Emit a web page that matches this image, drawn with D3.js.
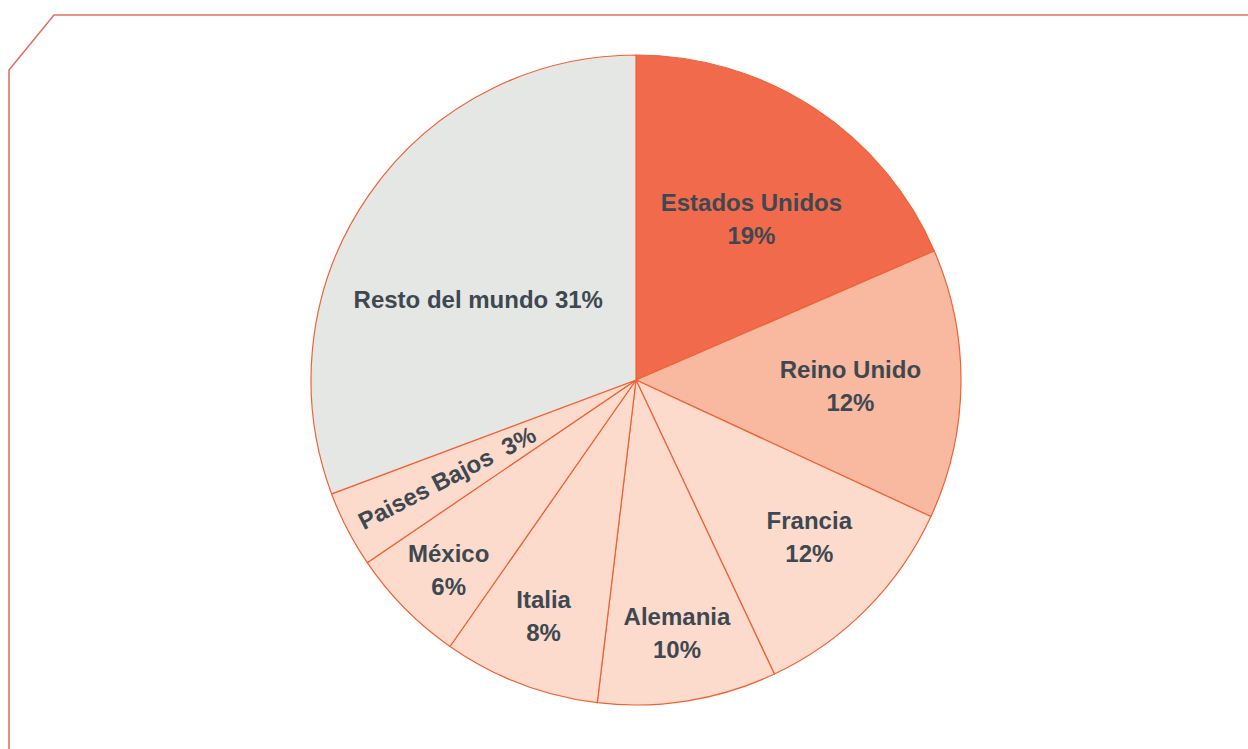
<!DOCTYPE html>
<html>
<head>
<meta charset="utf-8">
<script src="https://d3js.org/d3.v7.min.js"></script>
<style>
  body { margin: 0; background: #fff; }
  svg text { font-family: "Liberation Sans", Arial, sans-serif; font-weight: bold; fill: #3e4851; }
</style>
</head>
<body>
<div id="chart"></div>
<script>
// shares as drawn (clockwise from 12 o'clock)
var countries = ["Estados Unidos", "Reino Unido", "Francia", "Alemania", "Italia", "México", "Paises Bajos", "Resto del mundo"];
var shares = [18.5, 13.4, 11.1, 8.9, 7.8, 5.8, 3.8, 30.7];
var pctLabels = ["19%", "12%", "12%", "10%", "8%", "6%", "3%", "31%"];

var fills = ["#f26a4c", "#f9b8a0", "#fddbcc", "#fddbcc", "#fddbcc", "#fddbcc", "#fddbcc", "#e5e7e4"];
// how far out each label sits (fraction of radius) and a small angle nudge (deg)
var labelPos = [0.61, 0.66, 0.72, 0.79, 0.78, 0.82, 0.655, 0.545];
var labelTurn = [2.3, 1, -2.6, 0, 0.5, -0.7, 0, -7.7];

var width = 1248, height = 749;
var cx = 636, cy = 380, radius = 325;

var svg = d3.select("#chart").append("svg")
    .attr("width", width)
    .attr("height", height);

// frame with cut corner
svg.append("path")
    .attr("d", "M9,749 L9,70 L54,15 L1248,15")
    .attr("fill", "none")
    .attr("stroke", "#e46f67")
    .attr("stroke-width", 1.6);

var data = countries.map(function(c, i) {
  return { name: c, value: shares[i], pct: pctLabels[i], fill: fills[i], k: labelPos[i], turn: labelTurn[i] };
});

var pie = d3.pie().sort(null).value(function(d) { return d.value; });
var arc = d3.arc().innerRadius(0).outerRadius(radius);

var g = svg.append("g").attr("transform", "translate(" + cx + "," + cy + ")");

g.selectAll(".slice")
    .data(pie(data))
  .enter().append("path")
    .attr("class", "slice")
    .attr("d", arc)
    .attr("fill", function(d) { return d.data.fill; })
    .attr("stroke", "#ef6235")
    .attr("stroke-width", 1.2)
    .attr("stroke-linejoin", "round");

g.selectAll(".label")
    .data(pie(data))
  .enter().append("text")
    .attr("class", "label")
    .attr("text-anchor", "middle")
    .style("font-size", "24px")
    .each(function(d) {
      var r = radius * d.data.k;
      var mid = (d.startAngle + d.endAngle) / 2 + d.data.turn * Math.PI / 180;
      var c = [r * Math.sin(mid), -r * Math.cos(mid)];
      var t = d3.select(this);
      if (d.data.name === "Paises Bajos") {
        t.attr("transform", "translate(" + c[0] + "," + c[1] + ") rotate(" + (mid * 180 / Math.PI - 270) + ")")
          .attr("dy", "0.35em")
          .style("white-space", "pre")
          .text(d.data.name + "  " + d.data.pct);
      } else if (d.data.name === "Resto del mundo") {
        t.attr("x", c[0]).attr("y", c[1]).attr("dy", "0.35em")
          .text(d.data.name + " " + d.data.pct);
      } else {
        t.attr("transform", "translate(" + c[0] + "," + c[1] + ")");
        t.append("tspan").attr("x", 0).attr("y", -8).text(d.data.name);
        t.append("tspan").attr("x", 0).attr("y", 25).text(d.data.pct);
      }
    });
</script>
</body>
</html>
